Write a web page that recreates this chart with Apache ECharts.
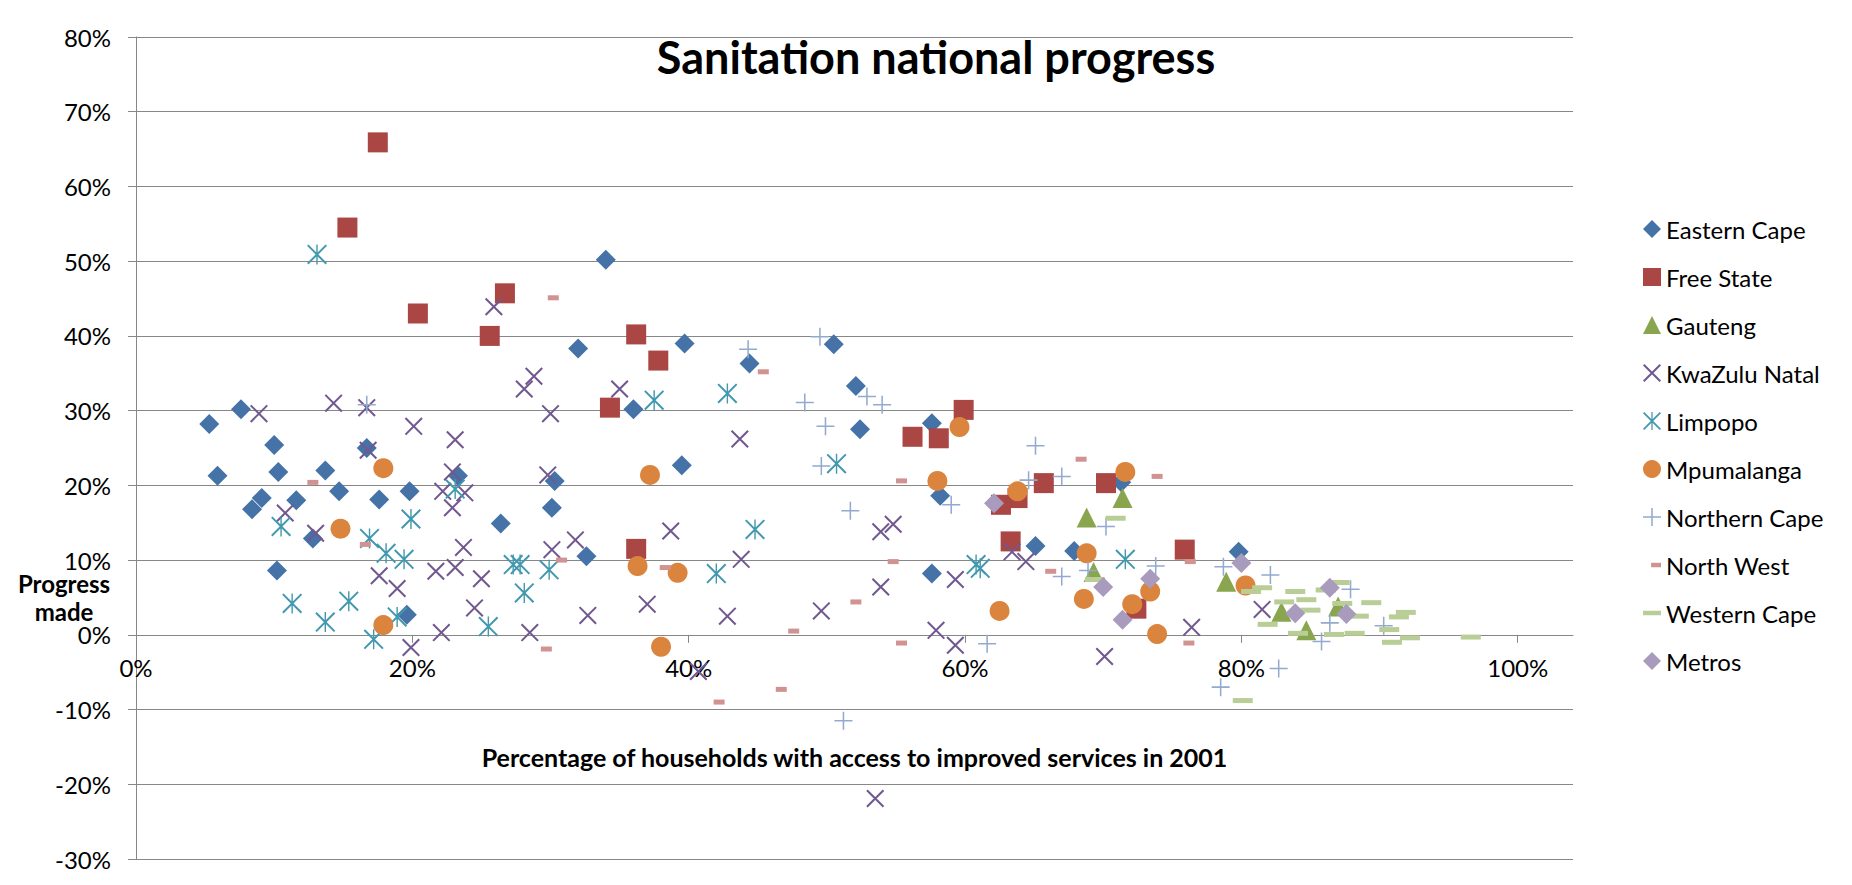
<!DOCTYPE html>
<html>
<head>
<meta charset="utf-8">
<script src="https://cdn.jsdelivr.net/npm/echarts@6/dist/echarts.min.js"></script>
<style>
html,body{margin:0;padding:0;background:#ffffff;}
#chart{width:1852px;height:885px;}
</style>
</head>
<body>
<div id="chart"></div>
<script>
// ---- Data (x: % households with access in 2001, y: progress made, in %) ----
const titleText = 'Sanitation national progress';
const xAxisTitle = 'Percentage of households with access to improved services in 2001';
const yAxisTitleLines = ['Progress', 'made'];
const xTickValues = [0, 20, 40, 60, 80, 100];
const yTickMin = -30, yTickMax = 80, yTickStep = 10;

const seriesNames = ['Eastern Cape','Free State','Gauteng','KwaZulu Natal','Limpopo','Mpumalanga','Northern Cape','North West','Western Cape','Metros'];

const easternCape = [[5.3,28.2],[5.9,21.3],[7.6,30.2],[8.4,16.8],[9.1,18.3],[10.0,25.4],[10.3,21.8],[10.2,8.6],[11.6,18.0],[12.8,12.9],[13.7,22.0],[14.7,19.2],[16.7,25.0],[17.6,18.1],[19.8,19.2],[19.6,2.7],[23.3,21.3],[26.4,14.9],[30.1,17.0],[30.3,20.6],[32.6,10.5],[32.0,38.3],[34.0,50.2],[36.0,30.2],[39.7,39.0],[39.5,22.7],[44.4,36.3],[50.5,38.9],[52.1,33.3],[52.4,27.5],[57.6,28.3],[58.2,18.6],[57.6,8.2],[65.1,11.9],[67.9,11.2],[71.3,20.4],[79.8,11.1]];
const freeState = [[15.3,54.5],[17.5,65.9],[20.4,43.0],[25.6,40.0],[26.7,45.7],[34.3,30.4],[36.2,40.2],[37.8,36.7],[36.2,11.5],[56.2,26.5],[58.1,26.3],[59.9,30.1],[62.6,17.4],[63.8,18.3],[63.3,12.5],[65.7,20.3],[70.2,20.3],[72.4,3.5],[75.9,11.4]];
const gauteng = [[68.8,15.7],[71.4,18.3],[69.3,8.4],[78.9,7.1],[82.9,3.1],[84.7,0.6],[87.0,3.8]];
const kwaZuluNatal = [[8.9,29.6],[14.3,31.0],[16.7,30.4],[16.8,24.7],[20.1,27.9],[23.1,26.1],[22.9,21.8],[22.2,19.2],[23.8,19.0],[22.9,17.0],[25.9,43.9],[28.8,34.6],[28.1,32.9],[30.0,29.6],[29.8,21.4],[35.0,32.9],[10.8,16.3],[13.0,13.6],[17.6,7.9],[18.9,6.2],[19.9,-1.7],[21.7,8.5],[23.1,9.0],[23.7,11.7],[22.1,0.3],[25.0,7.5],[24.5,3.6],[28.5,0.3],[30.1,11.4],[31.8,12.7],[32.7,2.6],[43.7,26.2],[38.7,13.9],[43.8,10.1],[53.9,13.8],[54.8,14.8],[63.4,11.1],[64.4,9.8],[37.0,4.1],[42.8,2.5],[49.6,3.2],[53.9,6.4],[57.9,0.6],[59.3,-1.4],[59.3,7.4],[40.7,-4.9],[53.5,-21.9],[76.4,1.0],[70.1,-2.9],[81.5,3.4]];
const limpopo = [[13.1,50.9],[10.5,14.5],[11.3,4.2],[13.7,1.7],[15.4,4.5],[16.9,12.9],[17.2,-0.6],[18.1,10.9],[18.9,2.4],[19.4,10.1],[19.9,15.5],[23.1,19.5],[25.5,1.1],[27.3,9.4],[27.8,9.4],[28.1,5.6],[29.9,8.7],[37.5,31.4],[42.8,32.3],[50.7,22.9],[44.8,14.1],[42.0,8.2],[60.8,9.4],[61.1,8.9],[71.6,10.1]];
const mpumalanga = [[14.8,14.2],[17.9,22.3],[17.9,1.3],[36.3,9.2],[37.2,21.4],[38.0,-1.6],[39.2,8.3],[58.0,20.6],[59.6,27.8],[62.5,3.2],[63.8,19.2],[68.6,4.8],[68.8,10.9],[71.6,21.8],[72.1,4.1],[73.4,5.8],[73.9,0.1],[80.3,6.6]];
const northernCape = [[16.7,30.8],[44.3,38.2],[49.5,39.9],[48.4,31.1],[52.9,31.9],[54.0,30.8],[49.9,27.9],[49.6,22.6],[51.7,16.6],[59.0,17.4],[65.1,25.3],[64.6,20.7],[67.0,21.2],[61.6,-1.2],[51.2,-11.5],[67.0,7.8],[68.9,8.6],[70.2,14.5],[73.8,9.2],[78.7,9.1],[82.1,8.0],[82.7,-4.5],[78.5,-7.0],[85.8,-0.9],[86.4,1.6],[87.9,6.1],[90.3,1.2]];
const northWest = [[12.8,20.4],[16.6,12.1],[30.2,45.1],[30.8,10.0],[29.7,-1.9],[38.3,9.0],[42.2,-9.0],[45.4,35.2],[46.7,-7.3],[47.6,0.5],[52.1,4.4],[54.8,9.8],[55.4,20.6],[55.4,-1.1],[66.2,8.5],[68.4,23.5],[73.9,21.2],[76.3,9.8],[76.2,-1.1]];
const westernCape = [[70.9,15.6],[69.4,7.4],[80.7,5.8],[81.5,6.3],[81.9,1.4],[83.1,4.4],[83.9,5.8],[84.7,4.7],[85.0,3.3],[84.1,0.2],[86.1,6.0],[87.1,7.0],[87.3,4.2],[88.5,2.5],[88.2,0.2],[86.7,0.05],[89.4,4.3],[90.7,0.7],[90.9,-1.0],[91.4,2.4],[91.9,3.0],[92.2,-0.4],[96.6,-0.3],[80.1,-8.8]];
const metros = [[62.1,17.6],[70.0,6.4],[71.4,2.0],[73.4,7.5],[80.0,9.6],[83.9,2.9],[86.4,6.3],[87.6,2.8]];

const seriesData = [easternCape, freeState, gauteng, kwaZuluNatal, limpopo, mpumalanga, northernCape, northWest, westernCape, metros];

// ---- Styles ----
const colors = ['#4572A7','#AA4643','#89A54E','#71588F','#4198AF','#DB843D','#93A9CF','#D19392','#B9CD96','#A99BBD'];
const X_PATH = 'path://M0,1.6L1.6,0L20,18.4L18.4,20Z M18.4,0L20,1.6L1.6,20L0,18.4Z';
const STAR_PATH = 'path://M0,1.4L1.4,0L20,18.6L18.6,20Z M18.6,0L20,1.4L1.4,20L0,18.6Z M9.3,0h1.4v20h-1.4Z';
const PLUS_PATH = 'path://M9.15,0h1.7v20h-1.7Z M0,9.15h20v1.7h-20Z';
const NW_ICON = 'path://M0,0L0.01,0M0,20L0.01,20M9,7.4h11v5.2h-11Z';
const WC_ICON = 'path://M0,0L0.01,0M0,20L0.01,20M0,7.4h20v5.2h-20Z';
const symbols = ['diamond','rect','triangle',X_PATH,STAR_PATH,'circle',PLUS_PATH,'rect','rect','diamond'];
const symbolSizes = [20,20,20,18,20,20,18,[11,5],[20,5],20];
const legendIcons = ['diamond','rect','triangle',X_PATH,STAR_PATH,'circle',PLUS_PATH,NW_ICON,WC_ICON,'diamond'];

const FONT = 'Lato, "Open Sans", sans-serif';
const GRID_COLOR = '#878787';

const GRID_TOP = 37, GRID_BOTTOM = 26, CHART_H = 885;
const plotH = CHART_H - GRID_TOP - GRID_BOTTOM;
// x axis sits on the 0% line: shift it up from the grid bottom by the pixel height of 0 -> -30%
const zeroShift = plotH * (0 - yTickMin) / (yTickMax - yTickMin);

const chart = echarts.init(document.getElementById('chart'), null, {renderer: 'svg'});

const series = seriesNames.map((name, i) => ({
  name: name,
  type: 'scatter',
  data: seriesData[i],
  symbol: symbols[i],
  symbolSize: symbolSizes[i],
  itemStyle: {color: colors[i], opacity: 1},
  emphasis: {disabled: true},
  z: 2 + i
}));

chart.setOption({
  animation: false,
  backgroundColor: '#ffffff',
  title: {
    text: titleText,
    left: 931,
    top: 29,
    textAlign: 'center',
    textStyle: {fontFamily: FONT, fontWeight: 'bold', fontSize: 45, color: '#000'}
  },
  grid: {left: 136, right: 279, top: GRID_TOP, bottom: GRID_BOTTOM, containLabel: false, outerBoundsMode: 'none'},
  legend: {
    orient: 'vertical',
    left: 1638,
    top: 212,
    itemWidth: 18,
    itemHeight: 18,
    itemGap: 24,
    textStyle: {fontFamily: FONT, fontSize: 24, color: '#000'},
    data: seriesNames.map((n, i) => ({name: n, icon: legendIcons[i]}))
  },
  xAxis: {
    type: 'value',
    min: 0,
    max: 104,
    interval: 20,
    offset: -zeroShift,
    axisLine: {show: true, onZero: false, lineStyle: {color: GRID_COLOR, width: 1}},
    axisTick: {show: true, length: 8, customValues: xTickValues, lineStyle: {color: GRID_COLOR, width: 1}},
    axisLabel: {customValues: xTickValues, formatter: '{value}%', fontFamily: FONT, fontSize: 24, color: '#000', margin: 21},
    splitLine: {show: false},
    name: xAxisTitle,
    nameLocation: 'middle',
    nameGap: 110,
    nameTextStyle: {fontFamily: FONT, fontWeight: 'bold', fontSize: 25, color: '#000'}
  },
  yAxis: {
    type: 'value',
    min: yTickMin,
    max: yTickMax,
    interval: yTickStep,
    axisLine: {show: true, onZero: false, lineStyle: {color: GRID_COLOR, width: 1}},
    axisTick: {show: true, length: 8, lineStyle: {color: GRID_COLOR, width: 1}},
    axisLabel: {formatter: '{value}%', fontFamily: FONT, fontSize: 24, color: '#000', margin: 25, lineHeight: 20},
    splitLine: {show: true, lineStyle: {color: GRID_COLOR, width: 1}}
  },
  graphic: yAxisTitleLines.map((t, i) => ({
    type: 'text',
    x: 64,
    y: 576 + i * 28,
    style: {text: t, font: 'bold 24px ' + FONT, fill: '#000', textAlign: 'center', lineHeight: 14}
  })),
  series: series
});
</script>
</body>
</html>
